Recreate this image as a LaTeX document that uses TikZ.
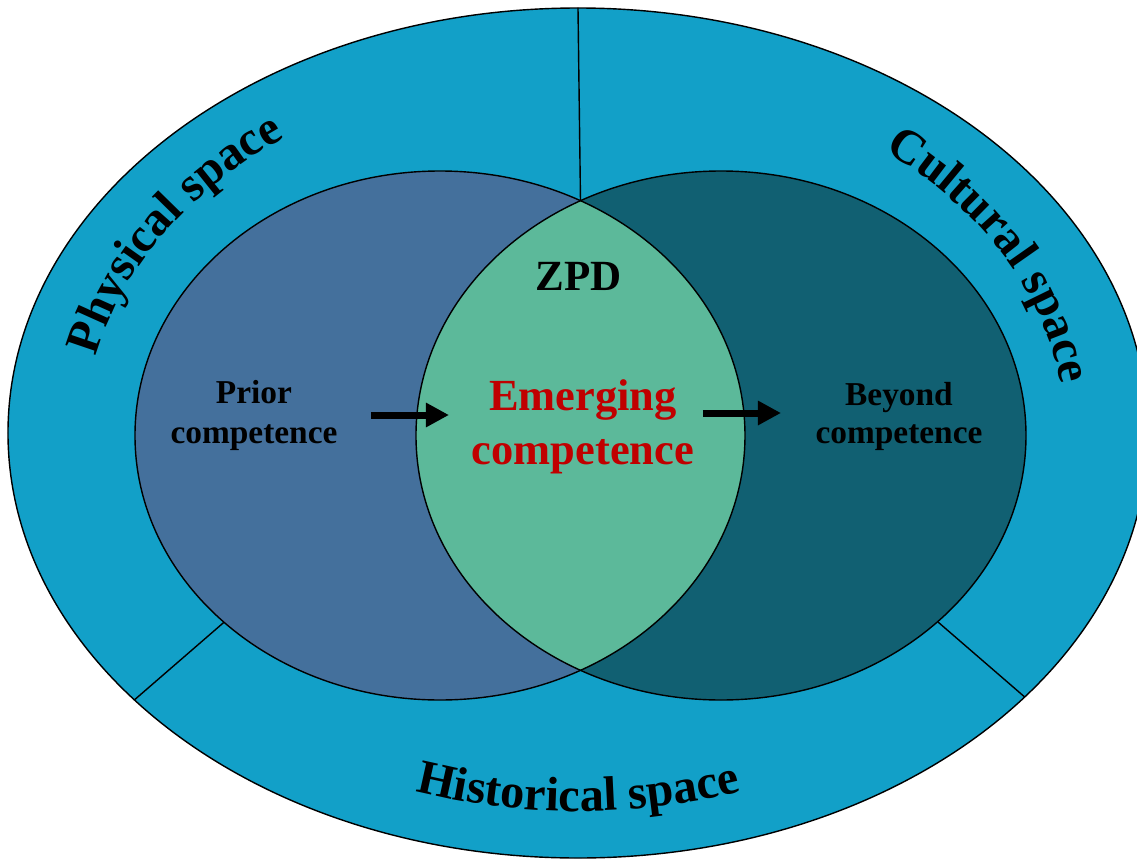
\documentclass[tikz,border=0pt]{standalone}
\usepackage{fontspec}
\setmainfont{Liberation Serif}
\usetikzlibrary{arrows.meta,decorations.text}

\definecolor{ringblue}{RGB}{18,160,200}
\definecolor{priorblue}{RGB}{68,112,156}
\definecolor{beyondteal}{RGB}{17,96,114}
\definecolor{zpdgreen}{RGB}{92,185,154}
\definecolor{emergred}{RGB}{192,0,0}

\newcommand{\ringfont}{\fontsize{27.5}{32}\selectfont\bfseries}

\begin{document}
\begin{tikzpicture}[line join=round, line cap=round, >={Triangle[length=0.46cm,width=0.46cm]},
		edge/.style={draw=black, line width=0.8pt},
		push/.style={->, line width=0.14cm, line cap=butt},
		small/.style={font=\fontsize{19}{23}\selectfont\bfseries, align=center}]
	\useasboundingbox (-11.56,-8.56) rectangle (11.18,8.66);
	%\draw[gray!10] (-11,-8) grid (11,8);
	\coordinate (O) at (0,0);
	\coordinate (L) at (-2.76,-0.05);
	\coordinate (R) at (2.86,-0.05);
	\coordinate (T) at (0,8.5);
	\coordinate (Z) at (0.05,4.645);
	\coordinate (Z') at (0.05,-4.745);
	\coordinate (H) at (218.9:11.4 and 8.5);
	\coordinate (H') at (321.6:11.4 and 8.5);
	\coordinate (K) at (-7.08,-3.785);
	\coordinate (K') at (7.2,-3.78);
	\coordinate (A) at (-4.14,0.36); \coordinate (A') at (-2.58,0.36);
	\coordinate (B) at (2.5,0.40); \coordinate (B') at (4.06,0.40);

	% outer ring and its three sectors
	\draw[edge, fill=ringblue] (O) ellipse [x radius=11.4, y radius=8.5];
	\draw[edge] (T)--(Z) (H)--(K) (H')--(K');

	% the two inner fields and their overlap
	\fill[priorblue] (L) ellipse [x radius=6.1, y radius=5.29];
	\fill[beyondteal] (R) ellipse [x radius=6.1, y radius=5.29];
	\begin{scope}
		\clip (L) ellipse [x radius=6.1, y radius=5.29];
		\fill[zpdgreen] (R) ellipse [x radius=6.1, y radius=5.29];
	\end{scope}
	\draw[edge] (L) ellipse [x radius=6.1, y radius=5.29];
	\draw[edge] (R) ellipse [x radius=6.1, y radius=5.29];

	\draw[push] (A)--(A'); \draw[push] (B)--(B');

	% curved labels of the ring
	\path[decorate, decoration={text along path, text={|\ringfont|Physical space}}]
		(O) ++(168:9.86 and 7.35) arc[start angle=168, end angle=100, x radius=9.86, y radius=7.35];
	\path[decorate, decoration={text along path, text={|\ringfont|Cultural space}}]
		(O) ++(51:9.75 and 7.27) arc[start angle=51, end angle=-20, x radius=9.75, y radius=7.27];
	\path[decorate, decoration={text along path, text align=center, text={|\ringfont|Historical space}}]
		(O) ++(200:10.15 and 7.565) arc[start angle=200, end angle=340, x radius=10.15, y radius=7.565];

	\node (zpd) at (0.01,3.14) {\fontsize{24.5}{28}\selectfont\bfseries ZPD};
	\node[font=\fontsize{25.3}{30.7}\selectfont\bfseries, align=center, text=emergred] (emerging) at (0.1,0.13) {Emerging\\competence};
	\node[small] (prior) at (-6.48,0.35) {Prior\\competence};
	\node[small, font=\fontsize{19}{21.6}\selectfont\bfseries] (beyond) at (6.42,0.34) {Beyond\\competence};
\end{tikzpicture}
\end{document}
